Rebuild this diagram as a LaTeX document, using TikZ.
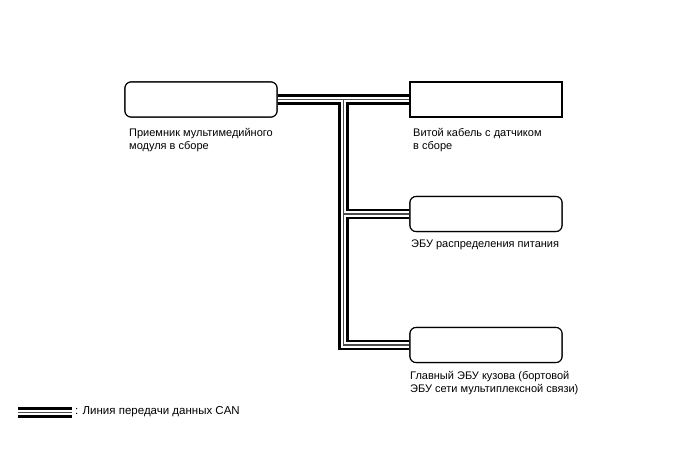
\documentclass[tikz,border=0pt]{standalone}
\usepackage{fontspec}
\setmainfont{Liberation Sans}
\begin{document}
\begin{tikzpicture}[x=1pt,y=-1pt,
  ecu/.style={draw, fill=white, line width=1.1pt, minimum width=152pt, minimum height=35pt, inner sep=0pt},
  rnd/.style={rounded corners=6pt},
  lbl/.style={anchor=north west, align=left, inner sep=0pt, font=\fontsize{11}{13}\selectfont},
  canblack/.style={line width=10.5pt, black},
  canwhite/.style={line width=5.8pt, white},
  cangray/.style={line width=1.5pt, black!70}]
\useasboundingbox (0,0) rectangle (688,463);
\node[ecu, rnd] (mm) at (201,99.5) {};
\node[ecu] (vt) at (486,99.5) {};
\node[ecu, rnd] (pw) at (486,214) {};
\node[ecu, rnd] (gl) at (486,345) {};
\coordinate (j) at (343.5,99.5);
\coordinate (l1) at (18,412.5);
\coordinate (l2) at (72,412.5);
\newcommand{\canroute}[1]{\draw[#1] (mm.east) -- (vt.west) (j) |- (gl.west) (j |- pw.west) -- (pw.west) (l1) -- (l2);}
\canroute{canblack}
\canroute{canwhite}
\canroute{cangray}
\node[ecu, rnd] at (mm) {};
\node[ecu] at (vt) {};
\node[ecu, rnd] at (pw) {};
\node[ecu, rnd] at (gl) {};
\node[lbl] (t1) at (129,128) {Приемник мультимедийного\\модуля в сборе};
\node[lbl] (t2) at (413,128) {Витой кабель с датчиком\\в сборе};
\node[lbl] (t3) at (411,240) {ЭБУ распределения питания};
\node[lbl] (t4) at (410,371) {Главный ЭБУ кузова (бортовой\\ЭБУ сети мультиплексной связи)};
\node[anchor=west, inner sep=0pt, font=\fontsize{11.5}{13}\selectfont] (lg) at (75,412) {: Линия передачи данных CAN};
\end{tikzpicture}
\end{document}
